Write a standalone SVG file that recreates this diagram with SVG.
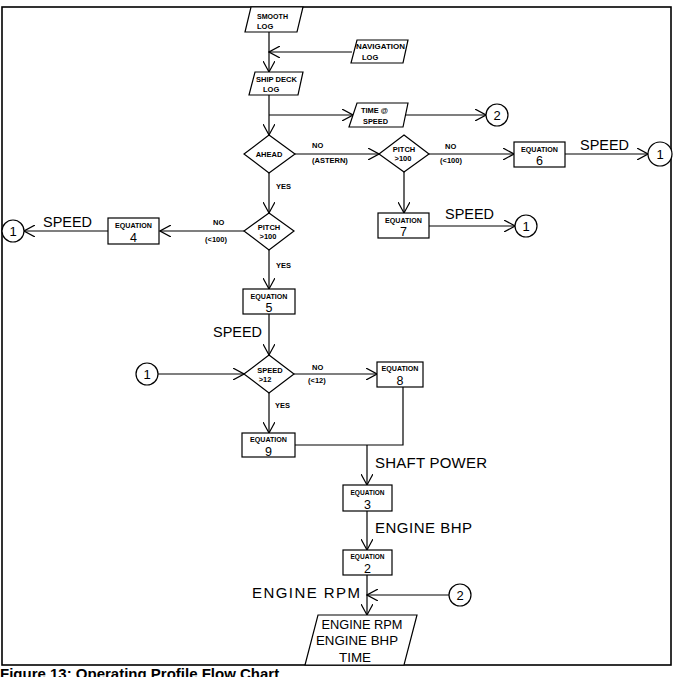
<svg xmlns="http://www.w3.org/2000/svg" width="678" height="677" viewBox="0 0 678 677">
<style>
.s{fill:none;stroke:#000;stroke-width:1.2}
.n{fill:#fff;stroke:#000;stroke-width:1.2}
.t{font-family:"Liberation Sans",Arial,sans-serif;fill:#000}
.sm{font-size:7.5px;font-weight:bold}
.num{font-size:12.5px}
.big{font-size:15px}
.mid{font-size:13px}
.cap{font-family:"Liberation Sans",Arial,sans-serif;font-size:15px;font-weight:bold;fill:#000}
</style>
<defs>
<marker id="ah" viewBox="0 0 12 12" refX="11" refY="6" markerWidth="12" markerHeight="12" markerUnits="userSpaceOnUse" orient="auto">
<path d="M0,0 L11,6 L0,12" fill="none" stroke="#000" stroke-width="1.2"/>
</marker>
</defs>
<rect width="678" height="677" fill="#fff"/>
<rect x="2" y="7" width="669" height="658" fill="none" stroke="#000" stroke-width="1.6"/>

<g id="connectors" class="s">
<line x1="269" y1="32" x2="269" y2="72" marker-end="url(#ah)"/>
<line x1="352" y1="52" x2="269" y2="52" marker-end="url(#ah)"/>
<line x1="269" y1="95" x2="269" y2="135" marker-end="url(#ah)"/>
<line x1="269" y1="115" x2="353" y2="115" marker-end="url(#ah)"/>
<line x1="405" y1="115" x2="486" y2="115" marker-end="url(#ah)"/>
<line x1="295" y1="154" x2="379" y2="154" marker-end="url(#ah)"/>
<line x1="429" y1="154" x2="514" y2="154" marker-end="url(#ah)"/>
<line x1="565" y1="154" x2="648" y2="154" marker-end="url(#ah)"/>
<line x1="404" y1="172" x2="404" y2="213" marker-end="url(#ah)"/>
<line x1="429" y1="226" x2="515" y2="226" marker-end="url(#ah)"/>
<line x1="269" y1="173" x2="269" y2="213" marker-end="url(#ah)"/>
<line x1="244" y1="231" x2="160" y2="231" marker-end="url(#ah)"/>
<line x1="108" y1="231" x2="24" y2="231" marker-end="url(#ah)"/>
<line x1="269" y1="250" x2="269" y2="289" marker-end="url(#ah)"/>
<line x1="269" y1="314" x2="269" y2="355" marker-end="url(#ah)"/>
<line x1="158" y1="374" x2="244" y2="374" marker-end="url(#ah)"/>
<line x1="294" y1="374" x2="377" y2="374" marker-end="url(#ah)"/>
<line x1="269" y1="393" x2="269" y2="433" marker-end="url(#ah)"/>
<polyline points="295,445 403,445 403,387"/>
<line x1="367" y1="445" x2="367" y2="485" marker-end="url(#ah)"/>
<line x1="367" y1="511" x2="367" y2="550" marker-end="url(#ah)"/>
<line x1="367" y1="575" x2="367" y2="615" marker-end="url(#ah)"/>
<line x1="449" y1="595" x2="367" y2="595" marker-end="url(#ah)"/>
</g>

<g id="smooth-log">
<polygon class="n" points="251,7 303,7 297,32 245,32"/>
<text class="t sm" x="257" y="19" textLength="31" lengthAdjust="spacingAndGlyphs">SMOOTH</text>
<text class="t sm" x="257" y="29">LOG</text>
</g>
<g id="navigation-log">
<polygon class="n" points="357,40 408,40 403,63 351,63"/>
<text class="t sm" x="356" y="49" textLength="49" lengthAdjust="spacingAndGlyphs">NAVIGATION</text>
<text class="t sm" x="362" y="60">LOG</text>
</g>
<g id="ship-deck-log">
<polygon class="n" points="255,72 303,72 298,95 249,95"/>
<text class="t sm" x="256" y="82" textLength="41" lengthAdjust="spacingAndGlyphs">SHIP DECK</text>
<text class="t sm" x="263" y="92">LOG</text>
</g>
<g id="time-speed">
<polygon class="n" points="357,103 408,103 403,127 349,127"/>
<text class="t sm" x="361" y="113" textLength="27" lengthAdjust="spacingAndGlyphs">TIME @</text>
<text class="t sm" x="363" y="124" textLength="25" lengthAdjust="spacingAndGlyphs">SPEED</text>
</g>
<g id="circle-2-top">
<circle class="n" cx="497" cy="115" r="11"/>
<text class="t mid" x="497" y="120" text-anchor="middle">2</text>
</g>

<g id="ahead">
<polygon class="n" points="269,135 295,154 269,173 244,154"/>
<text class="t sm" x="269" y="157" text-anchor="middle">AHEAD</text>
<text class="t sm" x="312" y="148">NO</text>
<text class="t sm" x="312" y="163">(ASTERN)</text>
<text class="t sm" x="276" y="189">YES</text>
</g>

<g id="pitch-right">
<polygon class="n" points="404,135 429,154 404,172 379,154"/>
<text class="t sm" x="404" y="152" text-anchor="middle">PITCH</text>
<text class="t sm" x="403" y="161" text-anchor="middle">&gt;100</text>
<text class="t sm" x="445" y="149">NO</text>
<text class="t sm" x="440" y="163">(&lt;100)</text>
</g>

<g id="equation-6">
<rect class="n" x="514" y="142" width="51" height="25"/>
<text class="t sm" x="539.5" y="151.5" text-anchor="middle" textLength="37" lengthAdjust="spacingAndGlyphs">EQUATION</text>
<text class="t num" x="539.5" y="165" text-anchor="middle">6</text>
<text class="t big" x="580" y="150" textLength="49" lengthAdjust="spacingAndGlyphs">SPEED</text>
</g>
<g id="circle-1-right">
<circle class="n" cx="660" cy="154" r="12"/>
<text class="t mid" x="660" y="159" text-anchor="middle">1</text>
</g>

<g id="equation-7">
<rect class="n" x="378" y="213" width="51" height="25"/>
<text class="t sm" x="403.5" y="222.5" text-anchor="middle" textLength="37" lengthAdjust="spacingAndGlyphs">EQUATION</text>
<text class="t num" x="403.5" y="236" text-anchor="middle">7</text>
<text class="t big" x="445" y="219" textLength="49" lengthAdjust="spacingAndGlyphs">SPEED</text>
</g>
<g id="circle-1-mid">
<circle class="n" cx="526" cy="226" r="11"/>
<text class="t mid" x="526" y="231" text-anchor="middle">1</text>
</g>

<g id="pitch-left">
<polygon class="n" points="269,213 294,231 269,250 244,231"/>
<text class="t sm" x="269" y="230" text-anchor="middle">PITCH</text>
<text class="t sm" x="268" y="239" text-anchor="middle">&gt;100</text>
<text class="t sm" x="213" y="225">NO</text>
<text class="t sm" x="205" y="242">(&lt;100)</text>
<text class="t sm" x="276" y="268">YES</text>
</g>

<g id="equation-4">
<rect class="n" x="108" y="218" width="51" height="26"/>
<text class="t sm" x="133.5" y="227.5" text-anchor="middle" textLength="37" lengthAdjust="spacingAndGlyphs">EQUATION</text>
<text class="t num" x="133.5" y="242" text-anchor="middle">4</text>
<text class="t big" x="43" y="227" textLength="49" lengthAdjust="spacingAndGlyphs">SPEED</text>
</g>
<g id="circle-1-left">
<circle class="n" cx="13" cy="231" r="11"/>
<text class="t mid" x="13" y="236" text-anchor="middle">1</text>
</g>

<g id="equation-5">
<rect class="n" x="243" y="289" width="52" height="25"/>
<text class="t sm" x="269" y="298.5" text-anchor="middle" textLength="37" lengthAdjust="spacingAndGlyphs">EQUATION</text>
<text class="t num" x="269" y="312" text-anchor="middle">5</text>
<text class="t big" x="213" y="337" textLength="49" lengthAdjust="spacingAndGlyphs">SPEED</text>
</g>

<g id="circle-1-lower">
<circle class="n" cx="147" cy="374" r="11"/>
<text class="t mid" x="147" y="379" text-anchor="middle">1</text>
</g>

<g id="speed-decision">
<polygon class="n" points="269,355 294,374 269,393 244,374"/>
<text class="t sm" x="270" y="373" text-anchor="middle">SPEED</text>
<text class="t sm" x="265" y="382" text-anchor="middle">&gt;12</text>
<text class="t sm" x="312" y="370">NO</text>
<text class="t sm" x="308" y="383">(&lt;12)</text>
<text class="t sm" x="275" y="408">YES</text>
</g>

<g id="equation-8">
<rect class="n" x="377" y="362" width="46" height="25"/>
<text class="t sm" x="400" y="370.5" text-anchor="middle" textLength="37" lengthAdjust="spacingAndGlyphs">EQUATION</text>
<text class="t num" x="400" y="385" text-anchor="middle">8</text>
</g>

<g id="equation-9">
<rect class="n" x="242" y="433" width="53" height="24"/>
<text class="t sm" x="268.5" y="441.5" text-anchor="middle" textLength="37" lengthAdjust="spacingAndGlyphs">EQUATION</text>
<text class="t num" x="268.5" y="455.5" text-anchor="middle">9</text>
</g>

<text class="t big" x="375" y="468" textLength="112" lengthAdjust="spacing">SHAFT POWER</text>

<g id="equation-3">
<rect class="n" x="343" y="485" width="49" height="26"/>
<text class="t sm" x="367.5" y="494.5" text-anchor="middle" textLength="34" lengthAdjust="spacingAndGlyphs">EQUATION</text>
<text class="t num" x="367.5" y="509" text-anchor="middle">3</text>
</g>

<text class="t big" x="375" y="533" textLength="97" lengthAdjust="spacing">ENGINE BHP</text>

<g id="equation-2">
<rect class="n" x="343" y="550" width="49" height="25"/>
<text class="t sm" x="367.5" y="559" text-anchor="middle" textLength="34" lengthAdjust="spacingAndGlyphs">EQUATION</text>
<text class="t num" x="367.5" y="573" text-anchor="middle">2</text>
</g>

<text class="t big" x="252" y="598" textLength="108" lengthAdjust="spacing">ENGINE RPM</text>

<g id="circle-2-bottom">
<circle class="n" cx="460" cy="595" r="11"/>
<text class="t mid" x="460" y="600" text-anchor="middle">2</text>
</g>

<g id="output">
<polygon class="n" points="318,615 417,615 404,665 305,665"/>
<text class="t mid" x="362" y="629" text-anchor="middle" textLength="81" lengthAdjust="spacingAndGlyphs">ENGINE RPM</text>
<text class="t mid" x="357" y="645" text-anchor="middle" textLength="82" lengthAdjust="spacingAndGlyphs">ENGINE BHP</text>
<text class="t mid" x="355" y="662" text-anchor="middle" textLength="32" lengthAdjust="spacingAndGlyphs">TIME</text>
</g>

<text class="cap" x="0" y="679">Figure 13: Operating Profile Flow Chart</text>
</svg>
